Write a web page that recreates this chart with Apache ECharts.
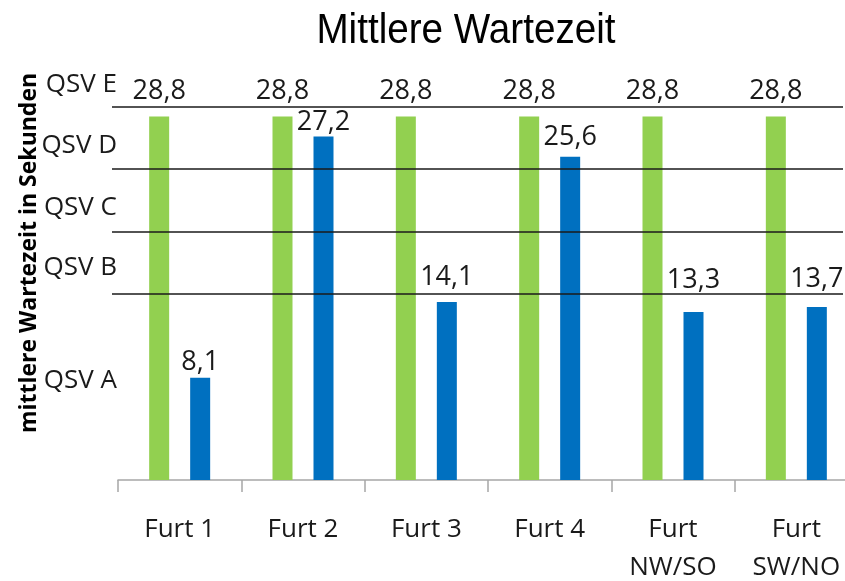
<!DOCTYPE html>
<html>
<head>
<meta charset="utf-8">
<script src="https://cdn.jsdelivr.net/npm/echarts@6/dist/echarts.min.js"></script>
<style>html,body{margin:0;padding:0;background:#fff}#c{width:845px;height:581px}</style>
</head>
<body>
<div id="c"></div>
<script>
var categories = ['Furt 1', 'Furt 2', 'Furt 3', 'Furt 4', 'Furt\nNW/SO', 'Furt\nSW/NO'];
var greenValues = [28.8, 28.8, 28.8, 28.8, 28.8, 28.8];
var blueValues = [8.1, 27.2, 14.1, 25.6, 13.3, 13.7];
var qsvLabels = ['QSV A', 'QSV B', 'QSV C', 'QSV D', 'QSV E'];
var qsvLabelValues = [7.9, 16.8, 21.6, 26.5, 31.3];
var qsvLineValues = [14.75, 19.65, 24.65, 29.6];
var blueLabelGap = [6, 5, 15, 10, 22, 18];

var FONT = "'Open Sans', 'Noto Sans', sans-serif";
var chart = echarts.init(document.getElementById('c'), null, {renderer: 'canvas'});

function fmt(v) { return String(v).replace('.', ','); }

var yMin = 0, yMax = 32;

var option = {
  animation: false,
  backgroundColor: '#ffffff',
  graphic: [{
    type: 'text', x: 466, y: 31, scaleX: 0.92,
    style: {text: 'Mittlere Wartezeit', align: 'center', verticalAlign: 'middle',
      fontFamily: "'Liberation Sans', Arial, sans-serif", fontSize: 42, fill: '#000'}
  }, {
    type: 'text', x: 29, y: 253, rotation: Math.PI / 2,
    style: {text: 'mittlere Wartezeit in Sekunden', align: 'center', verticalAlign: 'middle',
      fontFamily: FONT, fontSize: 23, fontWeight: 'bold', fill: '#000'}
  }],
  grid: [
    {left: 118, right: -13, top: 76, bottom: 101, containLabel: false, outerBoundsMode: 'none'},
    {left: 112, right: 2, top: 76, bottom: 101, containLabel: false, outerBoundsMode: 'none'}
  ],
  xAxis: [
    {
      type: 'category', gridIndex: 0, data: categories,
      axisLine: {lineStyle: {color: '#a6a6a6', width: 1.5}},
      axisTick: {show: true, length: 12, lineStyle: {color: '#a6a6a6', width: 1.5}},
      axisLabel: {fontFamily: FONT, fontSize: 26, color: '#1a1a1a', margin: 31, lineHeight: 38, interval: 0}
    },
    {type: 'category', gridIndex: 1, data: ['a'], show: false}
  ],
  yAxis: [
    {
      type: 'value', gridIndex: 0, min: yMin, max: yMax,
      splitLine: {show: false}, axisLine: {show: false}, axisTick: {show: false},
      axisLabel: {
        customValues: qsvLabelValues, margin: 1,
        fontFamily: FONT, fontSize: 26, color: '#1a1a1a',
        formatter: function (v) {
          var i = qsvLabelValues.indexOf(v);
          return i >= 0 ? qsvLabels[i] : '';
        }
      }
    },
    {type: 'value', gridIndex: 1, min: yMin, max: yMax, show: false}
  ],
  series: [
    {
      type: 'bar', name: 'green', xAxisIndex: 0, yAxisIndex: 0,
      data: greenValues, barWidth: 20, barGap: '105%',
      itemStyle: {color: '#92D050'},
      label: {show: true, position: 'top', distance: 12, fontFamily: FONT, fontSize: 27, color: '#1a1a1a',
        formatter: function (p) { return fmt(p.value); }}
    },
    {
      type: 'bar', name: 'blue', xAxisIndex: 0, yAxisIndex: 0,
      data: blueValues.map(function (v, i) {
        return {value: v, label: {distance: blueLabelGap[i] - 4}};
      }),
      barWidth: 20, barGap: '105%',
      itemStyle: {color: '#0070C0'},
      label: {show: true, position: 'top', fontFamily: FONT, fontSize: 27, color: '#1a1a1a',
        formatter: function (p) { return fmt(p.value); }}
    },
    {
      type: 'line', xAxisIndex: 1, yAxisIndex: 1, data: [], silent: true,
      markLine: {
        silent: true, symbol: ['none', 'none'], label: {show: false},
        lineStyle: {color: '#1a1a1a', width: 1.6, type: 'solid'},
        data: qsvLineValues.map(function (v) { return {yAxis: v}; })
      }
    }
  ]
};
chart.setOption(option);
</script>
</body>
</html>
